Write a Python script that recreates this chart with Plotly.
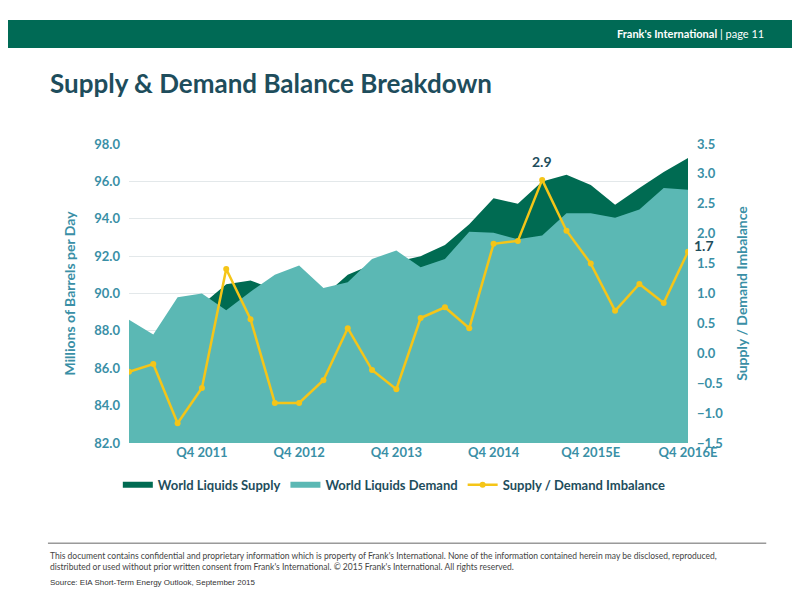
import plotly.graph_objects as go

# quarterly data, Q1 2011 .. Q4 2016E
quarters = ["Q1 2011", "Q2 2011", "Q3 2011", "Q4 2011", "Q1 2012", "Q2 2012", "Q3 2012", "Q4 2012",
            "Q1 2013", "Q2 2013", "Q3 2013", "Q4 2013", "Q1 2014", "Q2 2014", "Q3 2014", "Q4 2014",
            "Q1 2015", "Q2 2015", "Q3 2015E", "Q4 2015E", "Q1 2016E", "Q2 2016E", "Q3 2016E", "Q4 2016E"]
demand = [88.6, 87.8, 89.8, 90.0, 89.1, 90.1, 91.0, 91.5, 90.3, 90.6, 91.85, 92.3,
          91.4, 91.85, 93.3, 93.25, 92.9, 93.1, 94.3, 94.3, 94.05, 94.5, 95.65, 95.55]
supply = [88.3, 87.6, 88.6, 89.4, 90.5, 90.7, 90.2, 90.7, 89.85, 91.0, 91.55, 91.7,
          92.0, 92.6, 93.7, 95.1, 94.8, 96.0, 96.35, 95.8, 94.75, 95.65, 96.5, 97.25]
imbalance = [-0.31, -0.18, -1.17, -0.58, 1.41, 0.57, -0.83, -0.83, -0.45, 0.42, -0.28, -0.6,
             0.59, 0.77, 0.42, 1.83, 1.88, 2.9, 2.05, 1.5, 0.71, 1.16, 0.84, 1.7]
tick_idx = [3, 7, 11, 15, 19, 23]
tick_text = ["Q4 2011", "Q4 2012", "Q4 2013", "Q4 2014", "Q4 2015E", "Q4 2016E"]

x = list(range(len(quarters)))
teal_txt = "#3A8FA6"
font = "Lato"
tickfont = dict(size=13, color=teal_txt, family=font, weight="bold")

fig = go.Figure()
fig.add_trace(go.Scatter(x=x, y=supply, name="World Liquids Supply", fill="tozeroy",
                         mode="none", fillcolor="#006B52"))
fig.add_trace(go.Scatter(x=x, y=demand, name="World Liquids Demand", fill="tozeroy",
                         mode="none", fillcolor="#5BB8B4"))
fig.add_trace(go.Scatter(x=x, y=imbalance, name="Supply / Demand Imbalance", yaxis="y2",
                         mode="lines+markers", line=dict(color="#F5C518", width=2.5),
                         marker=dict(size=6, color="#F5C518")))

# value labels
for i, dx, dy in ((17, 0, 18), (23, 16, 6)):
    fig.add_annotation(x=x[i], y=imbalance[i], yref="y2", text="<b>%.1f</b>" % imbalance[i],
                       showarrow=False, yshift=dy, xshift=dx,
                       font=dict(size=14, color="#1E4D5C", family=font))

# header / footer
fig.add_shape(type="rect", xref="paper", yref="paper", x0=-1, x1=2, y0=1.321, y1=1.415,
              fillcolor="#006A55", line_width=0, layer="below")
fig.add_annotation(xref="paper", yref="paper", x=1.14, y=1.368, xanchor="right", yanchor="middle",
                   showarrow=False, text="<b>Frank's International</b> | page 11",
                   font=dict(size=11, color="white", family=font))
fig.add_annotation(xref="paper", yref="paper", x=-0.145, y=1.204, xanchor="left", yanchor="middle",
                   showarrow=False, text="<b>Supply & Demand Balance Breakdown</b>",
                   font=dict(size=26, color="#1E4D5C", family=font))
fig.add_shape(type="line", xref="paper", yref="paper", x0=-0.145, x1=1.14, y0=-0.335, y1=-0.335,
              line=dict(color="#666", width=1))
fig.add_annotation(xref="paper", yref="paper", x=-0.145, y=-0.355, xanchor="left", yanchor="top",
                   showarrow=False, align="left",
                   text="This document contains confidential and proprietary information which is property of Frank's International. None of the information contained herein may be disclosed, reproduced,<br>distributed or used without prior written consent from Frank's International. © 2015 Frank's International. All rights reserved.",
                   font=dict(size=8.5, color="#444", family=font))
fig.add_annotation(xref="paper", yref="paper", x=-0.145, y=-0.445, xanchor="left", yanchor="top",
                   showarrow=False, text="Source: EIA Short-Term Energy Outlook, September 2015",
                   font=dict(size=8, color="#333", family="Liberation Sans"))

fig.update_layout(
    width=800, height=600, plot_bgcolor="white", paper_bgcolor="white",
    margin=dict(l=121, r=120, t=136, b=165),
    font=dict(family=font, color=teal_txt),
    xaxis=dict(range=[0, 23], tickvals=[x[i] for i in tick_idx], ticktext=tick_text,
               showgrid=False, zeroline=False, ticks="", tickfont=tickfont),
    yaxis=dict(range=[82, 98], dtick=2, tickformat=".1f", gridcolor="#E3E8EA", zeroline=False,
               title=dict(text="<b>Millions of Barrels per Day</b>", font=dict(size=14, color=teal_txt)),
               tickfont=tickfont, ticklabelstandoff=8),
    yaxis2=dict(range=[-1.5, 3.5], dtick=0.5, tickformat=".1f", overlaying="y", side="right",
                showgrid=False, zeroline=False,
                title=dict(text="<b>Supply / Demand Imbalance</b>", font=dict(size=14, color=teal_txt)),
                tickfont=tickfont, ticklabelstandoff=8),
    legend=dict(orientation="h", x=-0.02, y=-0.09, xanchor="left",
                font=dict(size=13, color="#1E4D5C", weight="bold"), traceorder="normal"),
    showlegend=True,
)

fig.write_html("out.html")
